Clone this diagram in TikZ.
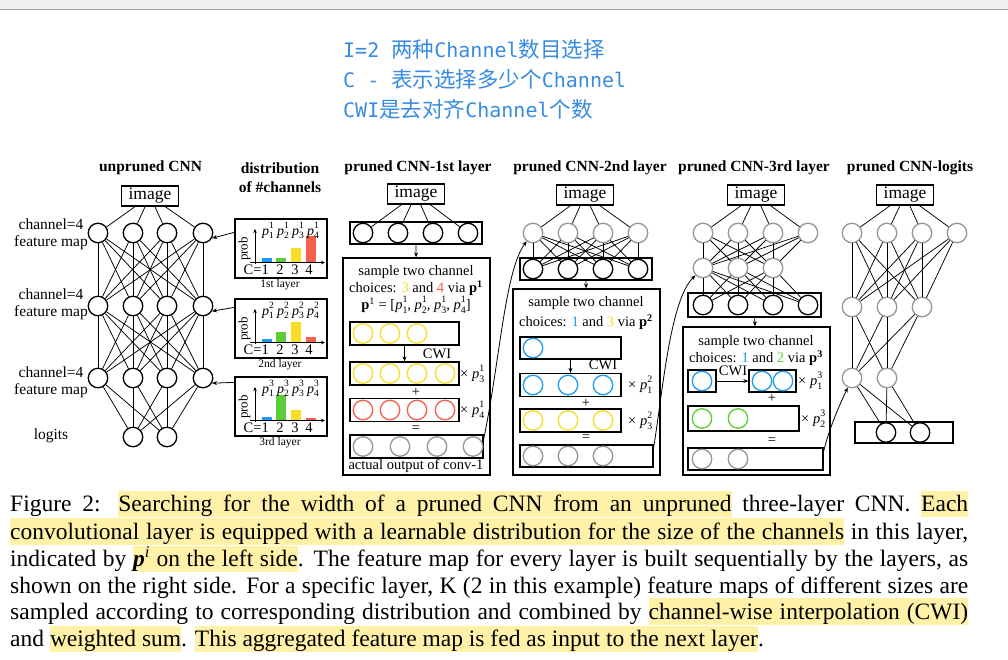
\documentclass[tikz,border=0pt]{standalone}
\usepackage{fontspec}
\setmainfont{Liberation Serif}
\newfontfamily\cjk{Noto Sans CJK SC}
\newfontfamily\mono{DejaVu Sans Mono}
\usetikzlibrary{arrows.meta,calc}
\definecolor{cblue}{RGB}{30,155,240}
\definecolor{cgreen}{RGB}{90,205,55}
\definecolor{cyel}{RGB}{248,222,40}
\definecolor{cred}{RGB}{245,95,75}
\definecolor{cgray}{RGB}{150,150,150}
\definecolor{hly}{RGB}{255,242,168}
\definecolor{topblue}{RGB}{55,140,225}
\definecolor{topband}{RGB}{240,240,240}
\newcommand\fsz[2]{\fontsize{#1}{#2}\selectfont}
\newcommand\pp[2]{\textit{p}\rlap{\raisebox{0.5em}{\scalebox{0.68}{#2}}}\raisebox{-0.28em}{\scalebox{0.68}{#1}}}
\newcommand\pbi{\textbf{\textit{p}}\textsuperscript{\textit{i}}}
\newcommand\hlw[1]{\setbox0=\hbox{#1}\leavevmode\rlap{\color{hly}\vrule height 21pt depth 5.5pt width \wd0\relax}\box0\relax}
\newcommand\hs{{\color{hly}\leaders\hrule height 21pt depth 5.5pt\hskip\fontdimen2\font plus\fontdimen3\font minus\fontdimen4\font\relax}}
\def\hl#1{\hlA#1 \hlend}
\def\hlA#1 #2\hlend{\hlw{#1}\ifx\relax#2\relax\else\hs\hlA#2\hlend\fi}
\begin{document}
\begin{tikzpicture}[x=1pt,y=-1pt,
 nd/.style={circle,draw,line width=1.3pt,minimum size=19.5pt,inner sep=0pt},
 bk/.style={nd,draw=black},
 gy/.style={nd,draw=cgray},
 cbl/.style={nd,draw=cblue},
 cgn/.style={nd,draw=cgreen},
 cyl/.style={nd,draw=cyel},
 crd/.style={nd,draw=cred},
 rbx/.style 2 args={draw,line width=1.3pt,inner sep=0pt,minimum width=#1,minimum height=#2},
 edge/.style={line width=0.75pt},
 arr/.style={line width=0.8pt,-{Stealth[length=5pt,width=4pt]}},
 ttl/.style={inner sep=0pt,font=\fsz{15.5}{19}\bfseries},
 txt/.style={inner sep=0pt,font=\fsz{14.5}{17}},
 lbl/.style={inner sep=0pt,font=\fsz{15.5}{17},align=center},
 imgbox/.style={draw,line width=1.5pt,minimum width=57pt,minimum height=20pt,inner sep=0pt,font=\fsz{17.5}{20}},
]
\useasboundingbox (0,0) rectangle (1008,659);
\fill[white] (0,0) rectangle (1008,659);
\fill[topband] (0,0) rectangle (1008,9);
\draw[gray!75,line width=1pt] (0,9.5) -- (1008,9.5);

% top chinese notes
\node[anchor=base west,inner sep=0,text=topblue] (zh1) at (343,57.5) {\fsz{20}{24}{\mono I=2 }{\cjk\fsz{21.5}{24}两种}{\mono Channel}{\cjk\fsz{21.5}{24}数目选择}};
\node[anchor=base west,inner sep=0,text=topblue] (zh2) at (343,87.5) {\fsz{20}{24}{\mono C - }{\cjk\fsz{21.5}{24}表示选择多少个}{\mono Channel}};
\node[anchor=base west,inner sep=0,text=topblue] (zh3) at (343,117) {\fsz{20}{24}{\mono CWI}{\cjk\fsz{21.5}{24}是去对齐}{\mono Channel}{\cjk\fsz{21.5}{24}个数}};

% ---------------- unpruned CNN
\node[ttl] (tu) at (150.5,168) {unpruned CNN};
\node[imgbox] (ui) at (150,196) {image};
\foreach \i/\x in {1/98,2/133,3/167,4/203} {
  \node[bk] (u1\i) at (\x,233) {};
  \node[bk] (u2\i) at (\x,306) {};
  \node[bk] (u3\i) at (\x,378) {};
}
\node[bk] (ul1) at (133,437) {};
\node[bk] (ul2) at (167,437) {};
\foreach \i in {1,...,4} {\draw[edge] (ui) -- (u1\i);}
\foreach \i in {1,...,4} {\foreach \j in {1,...,4} {\draw[edge] (u1\i) -- (u2\j); \draw[edge] (u2\i) -- (u3\j);}}
\foreach \i in {1,...,4} {\foreach \j in {1,2} {\draw[edge] (u3\i) -- (ul\j);}}
\node[lbl] (la1) at (51,234.5) {channel=4\\feature map};
\node[lbl] (la2) at (51,304) {channel=4\\feature map};
\node[lbl] (la3) at (51,382.5) {channel=4\\feature map};
\node[lbl] (la4) at (51,436) {logits};

% ---------------- distributions
\node[ttl,align=center,font=\fsz{15.5}{19}\bfseries] (td) at (280,178) {distribution\\of \#channels};
\foreach \k/\T/\hb/\hg/\hy/\hr/\lab/\dy in {1/219/5/5/15/27/1st/14,2/299/4/11/21/6/2nd/9,3/377/4/26/11/3/3rd/6}{
  \node[rbx={92pt}{59pt}] (d\k) at (281,\T+29.5) {};
  \fill[cblue] (261.5,\T+43.5) rectangle (271.5,\T+43.5-\hb);
  \fill[cgreen] (276,\T+43.5) rectangle (286,\T+43.5-\hg);
  \fill[cyel] (291,\T+43.5) rectangle (300.5,\T+43.5-\hy);
  \fill[cred] (306,\T+43.5) rectangle (315.5,\T+43.5-\hr);
  \draw[line width=0.8pt,-{Stealth[length=4pt,width=3.5pt]}] (255,\T+45) -- (255,\T+10);
  \draw[line width=0.8pt,-{Stealth[length=4pt,width=3.5pt]}] (250,\T+43.5) -- (325,\T+43.5);
  \node[txt,font=\fsz{14}{14},anchor=base] (pa\k) at (268,\T+16) {\pp{1}{\k}};
  \node[txt,font=\fsz{14}{14},anchor=base] (pb\k) at (283,\T+16) {\pp{2}{\k}};
  \node[txt,font=\fsz{14}{14},anchor=base] (pc\k) at (298,\T+16) {\pp{3}{\k}};
  \node[txt,font=\fsz{14}{14},anchor=base] (pd\k) at (313,\T+16) {\pp{4}{\k}};
  \node[txt,rotate=90,font=\fsz{13}{13}] (pr\k) at (244.5,\T+30) {prob};
  \node[txt,anchor=east] (ca\k) at (269,\T+51) {C=1};
  \node[txt] (cb\k) at (280,\T+51) {2};
  \node[txt] (cc\k) at (295,\T+51) {3};
  \node[txt] (cd\k) at (309,\T+51) {4};
  \node[txt,font=\fsz{11.5}{12}] (ll\k) at (280,\T+66) {\lab{} layer};
  \draw[arr] ([yshift=-\dy pt]d\k.north west) -- (u\k4.-30);
}

% ---------------- pruned CNN 1st layer
\node[ttl] (t1) at (418,168) {pruned CNN-1st layer};
\node[imgbox] (i1) at (416,194) {image};
\node[rbx={132pt}{22pt}] (r1) at (416,233) {};
\foreach \i/\x in {1/363,2/398,3/433,4/468} {\node[bk] (a\i) at (\x,233) {}; \draw[edge] (i1) -- (a\i);}
\node[rbx={147pt}{217pt}] (B1) at (416.5,366.5) {};
\draw[arr] (r1) -- (B1);
\node[txt] (s11) at (416,272) {sample two channel};
\node[txt] (s12) at (416,288) {choices: {\color{cyel}3} and {\color{cred}4} via \textbf{p}\textsuperscript{\textbf{1}}};
\node[txt] (s13) at (416,305) {\textbf{p}\textsuperscript{1} = [\pp{1}{1}, \pp{2}{1}, \pp{3}{1}, \pp{4}{1}]};
\node[rbx={109pt}{23pt}] (Y1) at (404.5,333.5) {};
\foreach \i/\x in {1/363,2/390,3/417} {\node[cyl] (ya\i) at (\x,333.5) {};}
\node[rbx={109pt}{23pt}] (Y2) at (404.5,373.5) {};
\foreach \i/\x in {1/363,2/390,3/417,4/445} {\node[cyl] (yb\i) at (\x,373.5) {};}
\draw[arr] (Y1) -- (Y2);
\node[txt] (cw1) at (437,354) {CWI};
\node[txt,anchor=west] (x11) at (460,373.5) {× \pp{3}{1}};
\node[txt] (pl1) at (416,392) {+};
\node[rbx={109pt}{23pt}] (R1) at (404.5,410) {};
\foreach \i/\x in {1/363,2/390,3/417,4/445} {\node[crd] (rb\i) at (\x,410) {};}
\node[txt,anchor=west] (x12) at (460,410) {× \pp{4}{1}};
\node[txt] (eq1) at (416,429) {=};
\node[rbx={133pt}{23pt}] (G1) at (416.5,446.5) {};
\foreach \i/\x in {1/363,2/400,3/437,4/473} {\node[gy] (ga\i) at (\x,446.5) {};}
\node[txt] (ao1) at (416,466) {actual output of conv-1};

% ---------------- pruned CNN 2nd layer
\node[ttl] (t2) at (590,168) {pruned CNN-2nd layer};
\node[imgbox] (i2) at (585,195) {image};
\foreach \i/\x in {1/533,2/568,3/603,4/638} {\node[gy] (g2\i) at (\x,233) {}; \draw[edge] (i2) -- (g2\i);}
\node[rbx={132pt}{22pt}] (K2) at (586,269) {};
\foreach \i/\x in {1/533,2/568,3/603,4/638} {\node[bk] (k2\i) at (\x,269) {};}
\foreach \i in {1,...,4} {\foreach \j in {1,...,4} {\draw[edge] (g2\i) -- (k2\j);}}
\node[rbx={147pt}{186pt}] (B2) at (586.5,382) {};
\draw[arr] (K2) -- (B2);
\node[txt] (s21) at (586,303) {sample two channel};
\node[txt] (s22) at (586,322) {choices: {\color{cblue}1} and {\color{cyel}3} via \textbf{p}\textsuperscript{\textbf{2}}};
\node[rbx={101pt}{22pt}] (BL2a) at (570.5,348) {};
\node[cbl] (bla1) at (533,348) {};
\node[rbx={101pt}{23pt}] (BL2b) at (570.5,385) {};
\foreach \i/\x in {1/533,2/568,3/603} {\node[cbl] (blb\i) at (\x,385) {};}
\draw[arr] (BL2a) -- (BL2b);
\node[txt] (cw2) at (603,365) {CWI};
\node[txt,anchor=west] (x21) at (628,385) {× \pp{1}{2}};
\node[txt] (pl2) at (586,403) {+};
\node[rbx={101pt}{23pt}] (YL2) at (570.5,420.5) {};
\foreach \i/\x in {1/533,2/568,3/603} {\node[cyl] (yl\i) at (\x,420.5) {};}
\node[txt,anchor=west] (x22) at (628,420.5) {× \pp{3}{2}};
\node[txt] (eq2) at (586,438) {=};
\node[rbx={133pt}{22pt}] (G2) at (586.5,456) {};
\foreach \i/\x in {1/533,2/568,3/603} {\node[gy] (gb\i) at (\x,456) {};}

% ---------------- pruned CNN 3rd layer
\node[ttl] (t3) at (754,168) {pruned CNN-3rd layer};
\node[imgbox] (i3) at (756,195) {image};
\foreach \i/\x in {1/703,2/738,3/773,4/808} {\node[gy] (h\i) at (\x,233) {}; \draw[edge] (i3) -- (h\i);}
\foreach \i/\x in {1/703,2/738,3/773} {\node[gy] (m\i) at (\x,268) {};}
\node[rbx={133pt}{24pt}] (K3) at (754.5,305) {};
\foreach \i/\x in {1/703,2/738,3/773,4/808} {\node[bk] (k3\i) at (\x,305) {};}
\foreach \i in {1,...,4} {\foreach \j in {1,2,3} {\draw[edge] (h\i) -- (m\j); \draw[edge] (m\j) -- (k3\i);}}
\node[rbx={147pt}{148pt}] (B3) at (756.5,401) {};
\draw[arr] (K3) -- (B3);
\node[txt] (s31) at (756,342) {sample two channel};
\node[txt] (s32) at (756,358) {choices: {\color{cblue}1} and {\color{cgreen}2} via \textbf{p}\textsuperscript{\textbf{3}}};
\node[rbx={28pt}{22pt}] (BL3a) at (702,381) {};
\node[cbl] (bc1) at (702,381) {};
\node[rbx={47pt}{22pt}] (BL3b) at (772.5,381) {};
\node[cbl] (bd1) at (762,381) {};
\node[cbl] (bd2) at (783,381) {};
\draw[arr] (BL3a) -- (BL3b);
\node[txt] (cw3) at (733,371) {CWI};
\node[txt,anchor=west] (x31) at (798,381) {× \pp{1}{3}};
\node[txt] (pl3) at (772,398) {+};
\node[rbx={111pt}{25pt}] (GR3) at (743.5,418.5) {};
\node[cgn] (gr1) at (702,418.5) {};
\node[cgn] (gr2) at (738,418.5) {};
\node[txt,anchor=west] (x32) at (801,418.5) {× \pp{2}{3}};
\node[txt] (eq3) at (772,441) {=};
\node[rbx={135pt}{22pt}] (G3) at (755.5,459) {};
\node[gy] (gc1) at (702,459) {};
\node[gy] (gc2) at (738,459) {};

% ---------------- pruned CNN logits
\node[ttl] (t4) at (910,168) {pruned CNN-logits};
\node[imgbox] (i4) at (905,195) {image};
\foreach \i/\x in {1/852,2/887,3/922,4/957} {\node[gy] (n1\i) at (\x,233) {}; \draw[edge] (i4) -- (n1\i);}
\foreach \i/\x in {1/852,2/887,3/922} {\node[gy] (n2\i) at (\x,307) {};}
\foreach \i/\x in {1/852,2/887} {\node[gy] (n3\i) at (\x,378) {};}
\node[rbx={98pt}{21pt}] (LB) at (904,432.5) {};
\node[bk] (lk1) at (886,432.5) {};
\node[bk] (lk2) at (920,432.5) {};
\foreach \i in {1,...,4} {\foreach \j in {1,2,3} {\draw[edge] (n1\i) -- (n2\j);}}
\foreach \i in {1,2,3} {\foreach \j in {1,2} {\draw[edge] (n2\i) -- (n3\j);}}
\foreach \i in {1,2} {\foreach \j in {1,2} {\draw[edge] (n3\i) -- (lk\j);}}

% ---------------- feeding curves
\draw[arr] ([yshift=-5pt]G1.north east) .. controls (500,360) and (505,270) .. (g21);
\draw[arr] ([yshift=-3pt]G2.north east) .. controls (663,390) and (670,300) .. (m1);
\draw[arr] ([yshift=-4pt]G3.north east) .. controls (830,425) and (842,400) .. (n31);

% ---------------- caption
\node[anchor=base west,inner sep=0pt] (cap) at (10,511.7) {\fsz{23.5}{26.3}\vtop{\parindent=0pt
\hbox to 958pt{Figure 2: \hl{Searching for the width of a pruned CNN from an unpruned} three-layer CNN. \hl{Each}}
\hbox to 958pt{\hl{convolutional layer is equipped with a learnable distribution for the size of the channels} in this layer,}
\hbox to 958pt{indicated by \hl{{\pbi} on the left side}. The feature map for every layer is built sequentially by the layers, as}
\hbox to 958pt{shown on the right side. For a specific layer, K (2 in this example) feature maps of different sizes are}
\hbox to 958pt{sampled according to corresponding distribution and combined by \hl{channel-wise interpolation (CWI)}}
\hbox{and \hl{weighted sum}. \hl{This aggregated feature map is fed as input to the next layer}.}}};
\end{tikzpicture}
\end{document}
